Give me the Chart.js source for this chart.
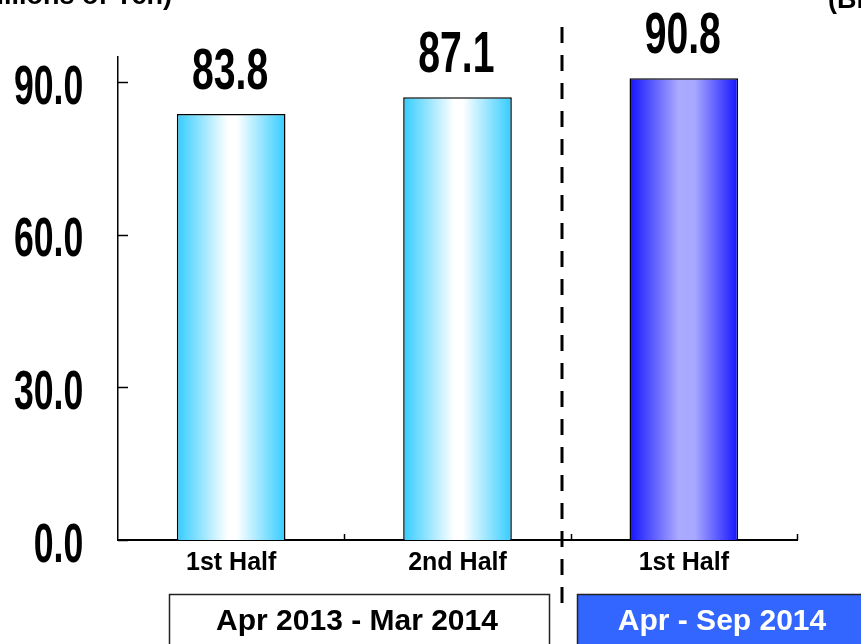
<!DOCTYPE html>
<html>
<head>
<meta charset="utf-8">
<script src="https://cdn.jsdelivr.net/npm/chart.js@4/dist/chart.umd.min.js"></script>
<style>
html,body{margin:0;padding:0;background:#fff;}
#wrap{width:861px;height:644px;}
</style>
</head>
<body>
<div id="wrap"><canvas id="c" width="861" height="644"></canvas></div>
<script>
// ---- data ----
const categories = ['1st Half', '2nd Half', '1st Half'];
const values = [83.8, 87.1, 90.8];
const valueLabels = ['83.8', '87.1', '90.8'];
const tickValues = [0, 30, 60, 90];
const tickLabels = ['0.0', '30.0', '60.0', '90.0'];
const periodLabels = ['Apr 2013 - Mar 2014', 'Apr - Sep 2014'];
const unitLabel = '(Billions of Yen)';

// ---- styles ----
const BAR_PCT = 0.48;
const gradStops = [
  [[0, '#33ccff'], [0.47, '#ffffff'], [0.55, '#ffffff'], [1, '#33ccff']],
  [[0, '#33ccff'], [0.47, '#ffffff'], [0.55, '#ffffff'], [1, '#33ccff']],
  [[0, '#1414ff'], [0.45, '#aaaaff'], [0.6, '#a8a8ff'], [1, '#1414ff']]
];
const NUM_FONT = '"Liberation Sans Narrow", "Liberation Sans", Arial, sans-serif';

function barFill(c) {
  const chart = c.chart;
  const xs = chart.scales && chart.scales.x;
  const i = c.dataIndex;
  if (!xs || !chart.chartArea || i === undefined) return '#33ccff';
  const cx = xs.getPixelForValue(i);
  const w = xs.width / categories.length * BAR_PCT;
  const g = chart.ctx.createLinearGradient(cx - w / 2, 0, cx + w / 2, 0);
  gradStops[i].forEach(s => g.addColorStop(s[0], s[1]));
  return g;
}

// condensed text helper: sized so ink height = h, ink width of ref = wRef
function condensedMetrics(ctx, ref, h, wRef) {
  ctx.font = '700 100px ' + NUM_FONT;
  const m = ctx.measureText(ref);
  const asc = ctx.measureText('0').actualBoundingBoxAscent;
  const size = h / asc * 100;
  const ink = (m.actualBoundingBoxLeft + m.actualBoundingBoxRight) * size / 100;
  return { size: size, sx: wRef / ink };
}
function drawCondensed(ctx, text, x, y, align, met) {
  ctx.save();
  ctx.font = '700 ' + met.size + 'px ' + NUM_FONT;
  ctx.textBaseline = 'alphabetic';
  ctx.textAlign = 'left';
  const m = ctx.measureText(text);
  const inkL = -m.actualBoundingBoxLeft, inkR = m.actualBoundingBoxRight;
  const inkW = (inkR - inkL) * met.sx;
  let left;
  if (align === 'right') left = x - inkW;
  else left = x - inkW / 2;
  ctx.translate(left - inkL * met.sx, y);
  ctx.scale(met.sx, 1);
  ctx.fillStyle = '#000';
  ctx.fillText(text, 0, 0);
  ctx.restore();
}

const decor = {
  id: 'decor',
  beforeDraw(chart) {
    const ctx = chart.ctx;
    ctx.save();
    ctx.fillStyle = '#fff';
    ctx.fillRect(0, 0, chart.width, chart.height);
    ctx.restore();
  },
  afterDraw(chart) {
    const ctx = chart.ctx;
    const xs = chart.scales.x, ys = chart.scales.y;
    const area = chart.chartArea;
    ctx.save();
    ctx.strokeStyle = '#000';
    ctx.lineWidth = 1.5;
    // y tick marks (inward)
    tickValues.forEach(v => {
      const y = Math.round(ys.getPixelForValue(v)) + 0.5;
      ctx.beginPath();
      ctx.moveTo(area.left, y);
      ctx.lineTo(area.left + 10, y);
      ctx.stroke();
    });
    // x category boundary ticks (upward)
    for (let i = 0; i < categories.length; i++) {
      const x = Math.round(xs.getPixelForValue(i + 0.5)) + 0.5;
      ctx.beginPath();
      ctx.moveTo(x, area.bottom);
      ctx.lineTo(x, area.bottom - 6);
      ctx.stroke();
    }
    ctx.restore();

    // y tick labels
    const tMet = condensedMetrics(ctx, '90.0', 39, 67);
    tickValues.forEach((v, i) => {
      const y = ys.getPixelForValue(v);
      drawCondensed(ctx, tickLabels[i], 82, y + 2 + 19.5, 'right', tMet);
    });
    // value labels
    const vMet = condensedMetrics(ctx, '83.8', 40, 74);
    const meta = chart.getDatasetMeta(0);
    meta.data.forEach((bar, i) => {
      drawCondensed(ctx, valueLabels[i], bar.x - 1, bar.y - 25, 'center', vMet);
    });

    // dashed separator
    ctx.save();
    ctx.strokeStyle = '#000';
    ctx.lineWidth = 3;
    ctx.setLineDash([16, 12]);
    const dx = Math.round(xs.getPixelForValue(1.46));
    ctx.beginPath();
    ctx.moveTo(dx, 27);
    ctx.lineTo(dx, 603);
    ctx.stroke();
    ctx.restore();

    // period boxes
    ctx.save();
    ctx.lineWidth = 1.5;
    ctx.strokeStyle = '#222';
    ctx.fillStyle = '#fff';
    ctx.fillRect(169.5, 594.5, 380, 60);
    ctx.strokeRect(169.5, 594.5, 380, 60);
    ctx.fillStyle = '#3366ff';
    ctx.fillRect(577.5, 594.5, 290, 60);
    ctx.strokeRect(577.5, 594.5, 290, 60);
    ctx.font = 'bold 30px "Liberation Sans", Arial, sans-serif';
    ctx.textAlign = 'center';
    ctx.textBaseline = 'alphabetic';
    ctx.fillStyle = '#000';
    ctx.fillText(periodLabels[0], 357, 630);
    ctx.fillStyle = '#fff';
    ctx.fillText(periodLabels[1], 722, 630);
    // unit labels (cut off at edges)
    ctx.fillStyle = '#000';
    ctx.font = 'bold 27px "Liberation Sans", Arial, sans-serif';
    ctx.textAlign = 'right';
    ctx.fillText(unitLabel, 172, 4);
    ctx.textAlign = 'left';
    ctx.fillText(unitLabel, 828, 8);
    ctx.restore();
  }
};

new Chart(document.getElementById('c'), {
  type: 'bar',
  data: {
    labels: categories,
    datasets: [{
      data: values,
      backgroundColor: barFill,
      borderColor: '#000',
      borderWidth: 1.5,
      barPercentage: BAR_PCT,
      categoryPercentage: 1
    }]
  },
  options: {
    responsive: false,
    devicePixelRatio: 1,
    animation: false,
    layout: { padding: { top: 57, right: 64, left: 0, bottom: 0 } },
    plugins: { legend: { display: false }, tooltip: { enabled: false } },
    scales: {
      y: {
        min: 0, max: 95,
        afterBuildTicks: s => { s.ticks = tickValues.map(v => ({ value: v })); },
        afterFit: s => { s.width = 118; },
        grid: { display: false },
        ticks: { display: false },
        border: { display: true, color: '#000', width: 1.5 }
      },
      x: {
        afterFit: s => { s.height = 104; },
        grid: { display: false },
        border: { display: true, color: '#000', width: 2 },
        ticks: {
          color: '#000',
          font: { family: '"Liberation Sans", Arial, sans-serif', weight: 'bold', size: 25 },
          padding: 0, maxRotation: 0, autoSkip: false
        }
      }
    }
  },
  plugins: [decor]
});
</script>
</body>
</html>
